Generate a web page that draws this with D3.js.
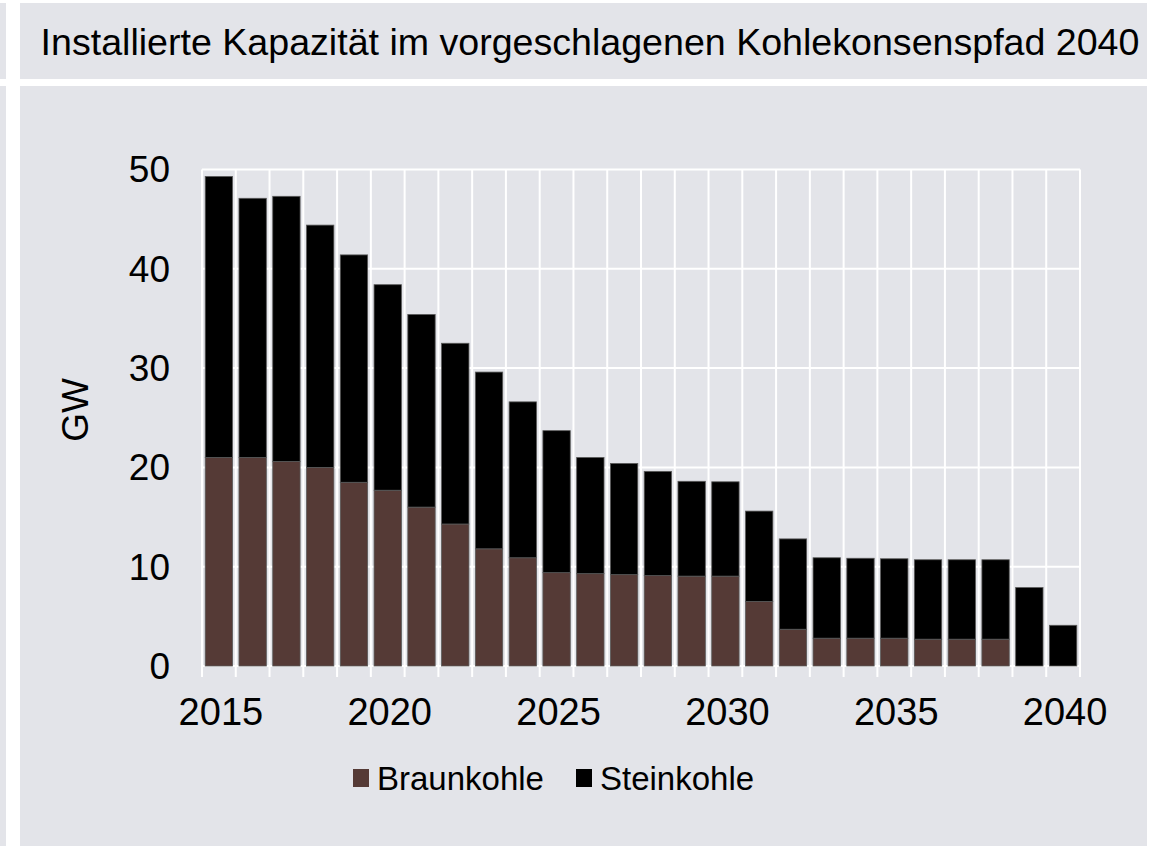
<!DOCTYPE html>
<html>
<head>
<meta charset="utf-8">
<script src="https://cdn.jsdelivr.net/npm/d3@7"></script>
<style>
  html, body { margin: 0; padding: 0; background: #ffffff; }
  svg { display: block; font-family: "Liberation Sans", Arial, sans-serif; }
</style>
</head>
<body>
<svg id="chart" width="1153" height="846"></svg>
<script>
const years = d3.range(2015, 2041);
const braunkohle = [21.0, 21.0, 20.6, 20.0, 18.5, 17.7, 16.0, 14.3, 11.8, 10.9, 9.4, 9.3, 9.2, 9.1, 9.05, 9.05, 6.5, 3.7, 2.8, 2.8, 2.8, 2.7, 2.7, 2.7, 0, 0];
const steinkohle = [28.3, 26.1, 26.7, 24.4, 22.9, 20.7, 19.4, 18.2, 17.8, 15.7, 14.3, 11.7, 11.2, 10.5, 9.55, 9.5, 9.1, 9.1, 8.1, 8.05, 8.0, 8.0, 8.0, 8.0, 7.9, 4.1];
const seriesNames = ["Braunkohle", "Steinkohle"];
const seriesColors = ["#553a36", "#000000"];
const yTicks = [0, 10, 20, 30, 40, 50];
const xTickLabels = [2015, 2020, 2025, 2030, 2035, 2040];
const titleText = "Installierte Kapazität im vorgeschlagenen Kohlekonsenspfad 2040";
const yAxisTitle = "GW";

const svg = d3.select("#chart");
const bg = "#e3e4e9";

// panels
svg.append("rect").attr("x", 0).attr("y", 3).attr("width", 6).attr("height", 76).attr("fill", bg);
svg.append("rect").attr("x", 0).attr("y", 86).attr("width", 6).attr("height", 760).attr("fill", bg);
svg.append("rect").attr("x", 20).attr("y", 3).attr("width", 1127).attr("height", 76).attr("fill", bg);
svg.append("rect").attr("x", 20).attr("y", 86).attr("width", 1127).attr("height", 760).attr("fill", bg);

svg.append("text").attr("x", 590).attr("y", 55).attr("text-anchor", "middle")
  .attr("font-size", 37.6).attr("fill", "#000").text(titleText);

const pLeft = 202, pRight = 1080, pTop = 169.5, pBottom = 666;
const x = d3.scaleBand().domain(years).range([pLeft, pRight]).padding(0);
const y = d3.scaleLinear().domain([0, 50]).range([pBottom, pTop]);

const data = years.map((yr, i) => ({ year: yr, Braunkohle: braunkohle[i], Steinkohle: steinkohle[i] }));
const stack = d3.stack().keys(seriesNames)(data);

// grid
const g = svg.append("g");
g.selectAll("line.h").data(yTicks).join("line")
  .attr("x1", pLeft).attr("x2", pRight)
  .attr("y1", d => y(d)).attr("y2", d => y(d))
  .attr("stroke", "#ffffff").attr("stroke-width", 2);
const edges = years.map(d => x(d)).concat([pRight]);
g.selectAll("line.v").data(edges).join("line")
  .attr("x1", d => d).attr("x2", d => d)
  .attr("y1", pTop).attr("y2", pBottom + 11)
  .attr("stroke", "#ffffff").attr("stroke-width", 2);

// bars
const bw = x.bandwidth() * 0.81;
const off = (x.bandwidth() - bw) / 2;
svg.append("g").selectAll("g").data(stack).join("g")
  .attr("fill", (d, i) => seriesColors[i])
  .selectAll("rect").data(d => d.filter(s => s[1] - s[0] > 0)).join("rect")
  .attr("x", d => x(d.data.year) + off)
  .attr("width", bw)
  .attr("y", d => y(d[1]))
  .attr("height", d => y(d[0]) - y(d[1]))
  .attr("stroke", "#5a5a5a").attr("stroke-width", 0.8);

// y tick labels
svg.append("g").selectAll("text").data(yTicks).join("text")
  .attr("x", 170).attr("y", d => y(d)).attr("dy", "0.35em")
  .attr("text-anchor", "end").attr("font-size", 37).attr("fill", "#000")
  .text(d => d);

// x tick labels
svg.append("g").selectAll("text").data(xTickLabels).join("text")
  .attr("x", d => x(d) + x.bandwidth() / 2 + 2).attr("y", 725)
  .attr("text-anchor", "middle").attr("font-size", 38).attr("fill", "#000")
  .text(d => d);

// y axis title
svg.append("text").attr("transform", "translate(88,410) rotate(-90)")
  .attr("text-anchor", "middle").attr("font-size", 37).attr("fill", "#000")
  .text(yAxisTitle);

// legend
const legendX = [353, 576];
const lg = svg.append("g").selectAll("g").data(seriesNames).join("g")
  .attr("transform", (d, i) => `translate(${legendX[i]},0)`);
lg.append("rect").attr("x", 0).attr("y", 769).attr("width", 16).attr("height", 18)
  .attr("fill", (d, i) => seriesColors[i]);
lg.append("text").attr("x", 24).attr("y", 790).attr("font-size", 33).attr("fill", "#000")
  .text(d => d);
</script>
</body>
</html>
